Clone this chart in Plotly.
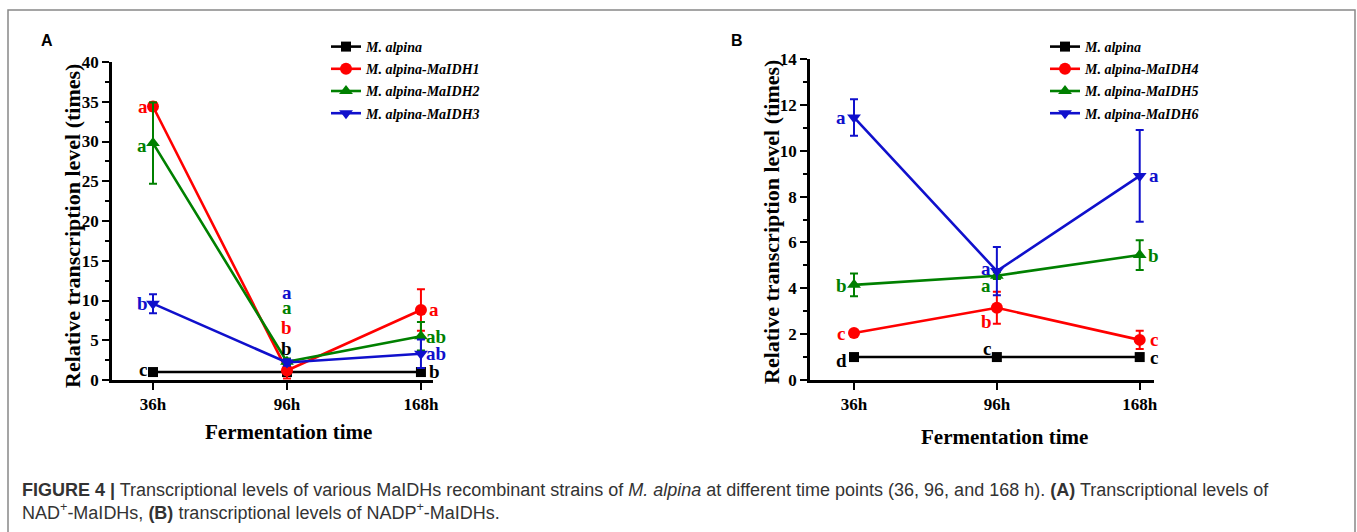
import plotly.graph_objects as go

# ---------------- data ----------------
times = ["36h", "96h", "168h"]

series_A = ["M. alpina", "M. alpina-MaIDH1", "M. alpina-MaIDH2", "M. alpina-MaIDH3"]
values_A = {
    "M. alpina":        [1.0, 1.0, 1.0],
    "M. alpina-MaIDH1": [34.4, 1.2, 8.8],
    "M. alpina-MaIDH2": [29.8, 2.3, 5.5],
    "M. alpina-MaIDH3": [9.6, 2.2, 3.3],
}
errors_A = {
    "M. alpina":        [0.0, 0.0, 0.0],
    "M. alpina-MaIDH1": [0.5, 1.0, 2.6],
    "M. alpina-MaIDH2": [5.1, 0.4, 1.8],
    "M. alpina-MaIDH3": [1.2, 0.4, 1.8],
}
letters_A = {
    "M. alpina":        ["c", "b", "b"],
    "M. alpina-MaIDH1": ["a", "b", "a"],
    "M. alpina-MaIDH2": ["a", "a", "ab"],
    "M. alpina-MaIDH3": ["b", "a", "ab"],
}

series_B = ["M. alpina", "M. alpina-MaIDH4", "M. alpina-MaIDH5", "M. alpina-MaIDH6"]
values_B = {
    "M. alpina":        [1.0, 1.0, 1.0],
    "M. alpina-MaIDH4": [2.05, 3.15, 1.75],
    "M. alpina-MaIDH5": [4.15, 4.55, 5.45],
    "M. alpina-MaIDH6": [11.45, 4.75, 8.9],
}
errors_B = {
    "M. alpina":        [0.0, 0.0, 0.0],
    "M. alpina-MaIDH4": [0.1, 0.7, 0.4],
    "M. alpina-MaIDH5": [0.5, 0.15, 0.65],
    "M. alpina-MaIDH6": [0.8, 1.05, 2.0],
}
letters_B = {
    "M. alpina":        ["d", "c", "c"],
    "M. alpina-MaIDH4": ["c", "b", "c"],
    "M. alpina-MaIDH5": ["b", "a", "b"],
    "M. alpina-MaIDH6": ["a", "a", "a"],
}

# ---------------- style ----------------
W, H = 1357, 532
colors = ["#000000", "#FF0000", "#008000", "#1010CC"]
symbols = ["square", "circle", "triangle-up", "triangle-down"]
msizes = [10, 12, 12, 12]
SERIF = "Liberation Serif, Times New Roman, serif"
SANS = "Liberation Sans, Arial, sans-serif"

# label offsets (px) per series index and time index: (xshift, yshift)
offs_A = [
    [(-10, 3), (0, 24), (14, 1)],
    [(-10, 0), (0, 43), (13, 1)],
    [(-11, -2), (0, 54), (15, 0)],
    [(-11, 0), (0, 70), (15, 0)],
]
offs_B = [
    [(-13, -3), (-10, 9), (14, 0)],
    [(-13, 0), (-10, -14), (14, 0)],
    [(-13, -1), (-11, -10), (14, 0)],
    [(-13, 0), (-11, 3), (14, 0)],
]


def px_x(p):
    return p / W


def px_y(p):
    return 1 - p / H


fig = go.Figure()
xidx = list(range(len(times)))
annotations = []

panels = [
    (series_A, values_A, errors_A, letters_A, offs_A, "x", "y", "legend"),
    (series_B, values_B, errors_B, letters_B, offs_B, "x2", "y2", "legend2"),
]

for (names, vals, errs, lets, offs, xa, ya, lg) in panels:
    for i, name in enumerate(names):
        fig.add_trace(go.Scatter(
            x=xidx, y=vals[name], name=name, xaxis=xa, yaxis=ya, legend=lg,
            legendgroup=lg + name,
            mode="lines+markers",
            line=dict(color=colors[i], width=2.6),
            marker=dict(symbol=symbols[i], size=msizes[i], color=colors[i]),
            error_y=dict(type="data", array=errs[name], visible=any(e > 0 for e in errs[name]),
                         color=colors[i], thickness=2, width=4),
            cliponaxis=False,
        ))
        for j in xidx:
            dx, dy = offs[i][j]
            annotations.append(dict(
                x=j, y=vals[name][j], xref=xa, yref=ya, text=lets[name][j],
                showarrow=False, xshift=dx, yshift=dy, xanchor="center", yanchor="middle",
                font=dict(family=SERIF, size=19, color=colors[i], weight="bold"),
            ))

axis_common = dict(
    showline=True, linecolor="black", linewidth=2.5, ticks="outside",
    tickcolor="black", tickwidth=2, ticklen=7, showgrid=False, zeroline=False,
    automargin=False,
    tickfont=dict(family=SERIF, size=17, color="black", weight="bold"),
)

leg_font = dict(family=SERIF, size=14, color="black", style="italic", weight="bold")

fig.update_layout(
    template="none",
    width=W, height=H, margin=dict(l=0, r=0, t=0, b=0, pad=0, autoexpand=False),
    paper_bgcolor="white", plot_bgcolor="white",
    xaxis=dict(domain=[px_x(112), px_x(433)], range=[-0.306, 2.09], anchor="y",
               tickvals=xidx, ticktext=times, **axis_common),
    yaxis=dict(domain=[px_y(380), px_y(62)], range=[0, 40], anchor="x",
               tickvals=[0, 5, 10, 15, 20, 25, 30, 35, 40],
               minor=dict(tickvals=[2.5, 7.5, 12.5, 17.5, 22.5, 27.5, 32.5, 37.5],
                          ticks="outside", ticklen=4, tickwidth=2, tickcolor="black"),
               **axis_common),
    xaxis2=dict(domain=[px_x(810), px_x(1154)], range=[-0.308, 2.1], anchor="y2",
                tickvals=xidx, ticktext=times, **axis_common),
    yaxis2=dict(domain=[px_y(380), px_y(59)], range=[0, 14], anchor="x2",
                tickvals=[0, 2, 4, 6, 8, 10, 12, 14],
                minor=dict(tickvals=[1, 3, 5, 7, 9, 11, 13],
                           ticks="outside", ticklen=4, tickwidth=2, tickcolor="black"),
                **axis_common),
    legend=dict(x=px_x(326), y=px_y(31), xanchor="left", yanchor="top",
                bgcolor="rgba(0,0,0,0)", itemwidth=30, tracegroupgap=1, font=leg_font),
    legend2=dict(x=px_x(1045), y=px_y(31), xanchor="left", yanchor="top",
                 bgcolor="rgba(0,0,0,0)", itemwidth=30, tracegroupgap=1, font=leg_font),
    showlegend=True,
)

title_font = dict(family=SERIF, size=22, color="black", weight="bold")
xt_font = dict(family=SERIF, size=21, color="black", weight="bold")
lab_font = dict(family=SANS, size=16, color="black", weight="bold")
cap_font = dict(family=SANS, size=18, color="#333333")


def pa(text, x, y, font, xanchor="center", **kw):
    return dict(text=text, x=px_x(x), y=px_y(y), xref="paper", yref="paper",
                xanchor=xanchor, yanchor="middle", showarrow=False, font=font, **kw)


annotations += [
    pa("Relative transcription level (times)", 72, 226, title_font, textangle=-90),
    pa("Relative transcription level (times)", 771, 222, title_font, textangle=-90),
    pa("Fermentation time", 288, 432, xt_font),
    pa("Fermentation time", 1005, 437, xt_font),
    pa("A", 47, 40, lab_font),
    pa("B", 737, 40, lab_font),
    pa("<b>FIGURE 4 |</b> Transcriptional levels of various MaIDHs recombinant strains of <i>M. alpina</i> "
       "at different time points (36, 96, and 168 h). <b>(A)</b> Transcriptional levels of",
       20, 490, cap_font, xanchor="left"),
    pa("NAD<sup>+</sup>-MaIDHs, <b>(B)</b> transcriptional levels of NADP<sup>+</sup>-MaIDHs.",
       20, 511, cap_font, xanchor="left"),
]
fig.update_layout(annotations=annotations)

# outer frame (open at bottom)
fig.add_shape(type="path", xref="paper", yref="paper",
              path=f"M {px_x(8)},{0} L {px_x(8)},{px_y(10)} L {px_x(1355)},{px_y(10)} L {px_x(1355)},{0}",
              line=dict(color="#888888", width=1.5))

fig.write_html("out.html")
